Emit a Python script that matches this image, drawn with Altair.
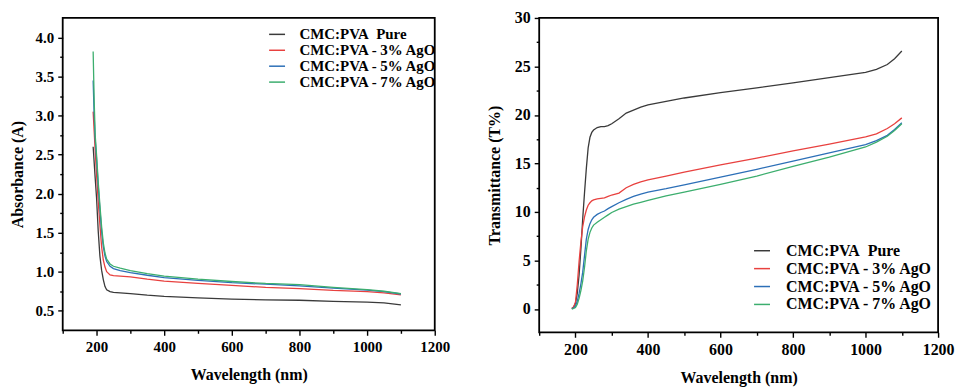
import altair as alt
import pandas as pd

FONT = "Liberation Serif"

series = ["CMC:PVA\u00a0 Pure", "CMC:PVA - 3% AgO", "CMC:PVA - 5% AgO", "CMC:PVA - 7% AgO"]
colors = ["#3a3a3a", "#e8413f", "#2c6fb7", "#3cae6e"]

# ---- Absorbance panel ----
abs_x = [190, 193, 196, 200, 205, 210, 215, 220, 225, 230, 240, 250, 270, 300,
         350, 400, 500, 600, 700, 800, 900, 1000, 1050, 1100]
abs_pure = [2.6, 2.4, 2.2, 1.95, 1.52, 1.2, 1.02, 0.9, 0.81, 0.77, 0.745, 0.735, 0.73, 0.72,
            0.70, 0.685, 0.665, 0.65, 0.64, 0.635, 0.62, 0.61, 0.60, 0.575]
abs_3 = [3.05, 2.8, 2.55, 2.25, 1.9, 1.6, 1.32, 1.15, 1.06, 1.0, 0.96, 0.95, 0.945, 0.935,
         0.905, 0.88, 0.85, 0.825, 0.80, 0.785, 0.76, 0.745, 0.73, 0.705]
abs_5 = [3.45, 3.0, 2.7, 2.45, 2.1, 1.8, 1.52, 1.32, 1.2, 1.13, 1.07, 1.04, 1.015, 0.99,
         0.955, 0.925, 0.89, 0.86, 0.84, 0.82, 0.79, 0.765, 0.745, 0.715]
abs_7 = [3.82, 3.2, 2.75, 2.5, 2.15, 1.85, 1.58, 1.37, 1.24, 1.16, 1.1, 1.07, 1.045, 1.015,
         0.975, 0.945, 0.905, 0.875, 0.85, 0.835, 0.80, 0.77, 0.75, 0.72]

# ---- Transmittance panel ----
tr_x = [190, 195, 200, 205, 210, 215, 220, 225, 230, 235, 240, 245, 250, 260, 270, 280,
        290, 300, 320, 340, 360, 380, 400, 450, 500, 600, 700, 800, 900, 1000, 1030,
        1060, 1080, 1100]
tr_pure = [0.05, 0.2, 0.6, 1.6, 3.5, 6.2, 9.3, 12.0, 14.5, 16.6, 17.7, 18.2, 18.45, 18.7,
           18.8, 18.8, 18.9, 19.1, 19.6, 20.2, 20.5, 20.8, 21.05, 21.4, 21.75, 22.3, 22.8,
           23.3, 23.85, 24.4, 24.7, 25.2, 25.8, 26.6]
tr_3 = [0.05, 0.2, 0.7, 2.5, 4.9, 6.9, 8.5, 9.5, 10.2, 10.7, 10.95, 11.15, 11.25, 11.35,
        11.4, 11.45, 11.6, 11.75, 11.95, 12.5, 12.85, 13.1, 13.3, 13.7, 14.1, 14.85, 15.55,
        16.3, 17.0, 17.75, 18.05, 18.6, 19.1, 19.7]
tr_5 = [0.03, 0.1, 0.3, 0.8, 1.6, 2.6, 3.8, 5.5, 7.2, 8.2, 8.8, 9.2, 9.45, 9.75, 9.95,
        10.1, 10.35, 10.55, 10.95, 11.3, 11.6, 11.85, 12.05, 12.4, 12.8, 13.6, 14.4, 15.25,
        16.1, 16.95, 17.35, 17.9, 18.5, 19.2]
tr_7 = [0.0, 0.05, 0.15, 0.5, 1.1, 1.9, 2.9, 4.3, 6.0, 7.2, 7.9, 8.35, 8.65, 8.95, 9.2,
        9.45, 9.7, 9.95, 10.3, 10.55, 10.8, 11.0, 11.2, 11.65, 12.05, 12.85, 13.7, 14.7,
        15.65, 16.7, 17.2, 17.8, 18.4, 19.1]

x_ticks = list(range(100, 1201, 100))
abs_ticks = [0.5 + 0.25 * i for i in range(15)]
tr_ticks = [2.5 * i for i in range(13)]


def long_df(xs, ys_list):
    rows = []
    for name, ys in zip(series, ys_list):
        for x, y in zip(xs, ys):
            rows.append({"wl": x, "val": y, "s": name})
    return pd.DataFrame(rows)


dfa = long_df(abs_x, [abs_pure, abs_3, abs_5, abs_7])
dft = long_df(tr_x, [tr_pure, tr_3, tr_5, tr_7])


def tick_size(test):
    return {"condition": {"test": test, "value": 5}, "value": 3}


def x_axis(fs, tfs):
    return alt.Axis(
        values=x_ticks, format="d", labelFlush=False,
        labelExpr="datum.value % 200 === 0 ? datum.label : ''",
        tickSize=tick_size("datum.value % 200 === 0"),
        title="Wavelength (nm)", labelFontSize=fs, titleFontSize=tfs,
        labelPadding=4, titlePadding=12,
    )


def legend(lx, ly, fs, off, rp):
    return alt.Legend(
        title=None, orient="none", legendX=lx, legendY=ly,
        symbolType="M-2,0H2", symbolSize=64, symbolStrokeWidth=1.5,
        labelFont=FONT, labelFontWeight="bold", labelFontSize=fs, labelColor="black",
        labelOffset=off, rowPadding=rp, padding=0,
    )


color_scale = alt.Scale(domain=series, range=colors)

left = alt.Chart(dfa).mark_line(strokeWidth=1.3).encode(
    x=alt.X("wl:Q", scale=alt.Scale(domain=[100, 1200], nice=False), axis=x_axis(15, 16)),
    y=alt.Y("val:Q", scale=alt.Scale(domain=[0.25, 4.25], nice=False, zero=False),
            axis=alt.Axis(values=abs_ticks, format=".1f", labelFlush=False,
                          labelExpr="round(datum.value * 100) % 50 === 0 ? datum.label : ''",
                          tickSize=tick_size("round(datum.value * 100) % 50 === 0"),
                          title="Absorbance (A)", labelFontSize=15, titleFontSize=16,
                          labelPadding=4, titlePadding=10)),
    color=alt.Color("s:N", scale=color_scale, legend=legend(208, 9, 15, 15, 0)),
).properties(width=374, height=314)

right = alt.Chart(dft).mark_line(strokeWidth=1.3).encode(
    x=alt.X("wl:Q", scale=alt.Scale(domain=[100, 1200], nice=False), axis=x_axis(16, 16)),
    y=alt.Y("val:Q", scale=alt.Scale(domain=[-2.4, 30], nice=False, zero=False),
            axis=alt.Axis(values=tr_ticks, format="d", labelFlush=False,
                          labelExpr="datum.value % 5 === 0 ? datum.label : ''",
                          tickSize=tick_size("datum.value % 5 === 0"),
                          title="Transmittance (T%)", labelFontSize=16, titleFontSize=16,
                          labelPadding=4, titlePadding=12)),
    color=alt.Color("s:N", scale=color_scale, legend=legend(216, 226, 16, 16, 2)),
).properties(width=401, height=316)

chart = alt.hconcat(left, right, spacing=105, bounds="flush").resolve_legend(
    color="independent"
).properties(padding=0).configure_view(
    stroke="black", strokeWidth=1.8
).configure_axis(
    grid=False, domain=False, tickColor="black", tickWidth=1.4,
    labelFont=FONT, labelFontWeight="bold", labelColor="black",
    titleFont=FONT, titleFontWeight="bold", titleColor="black",
)

chart.save("out.html", embed_options={"renderer": "svg", "actions": False})
